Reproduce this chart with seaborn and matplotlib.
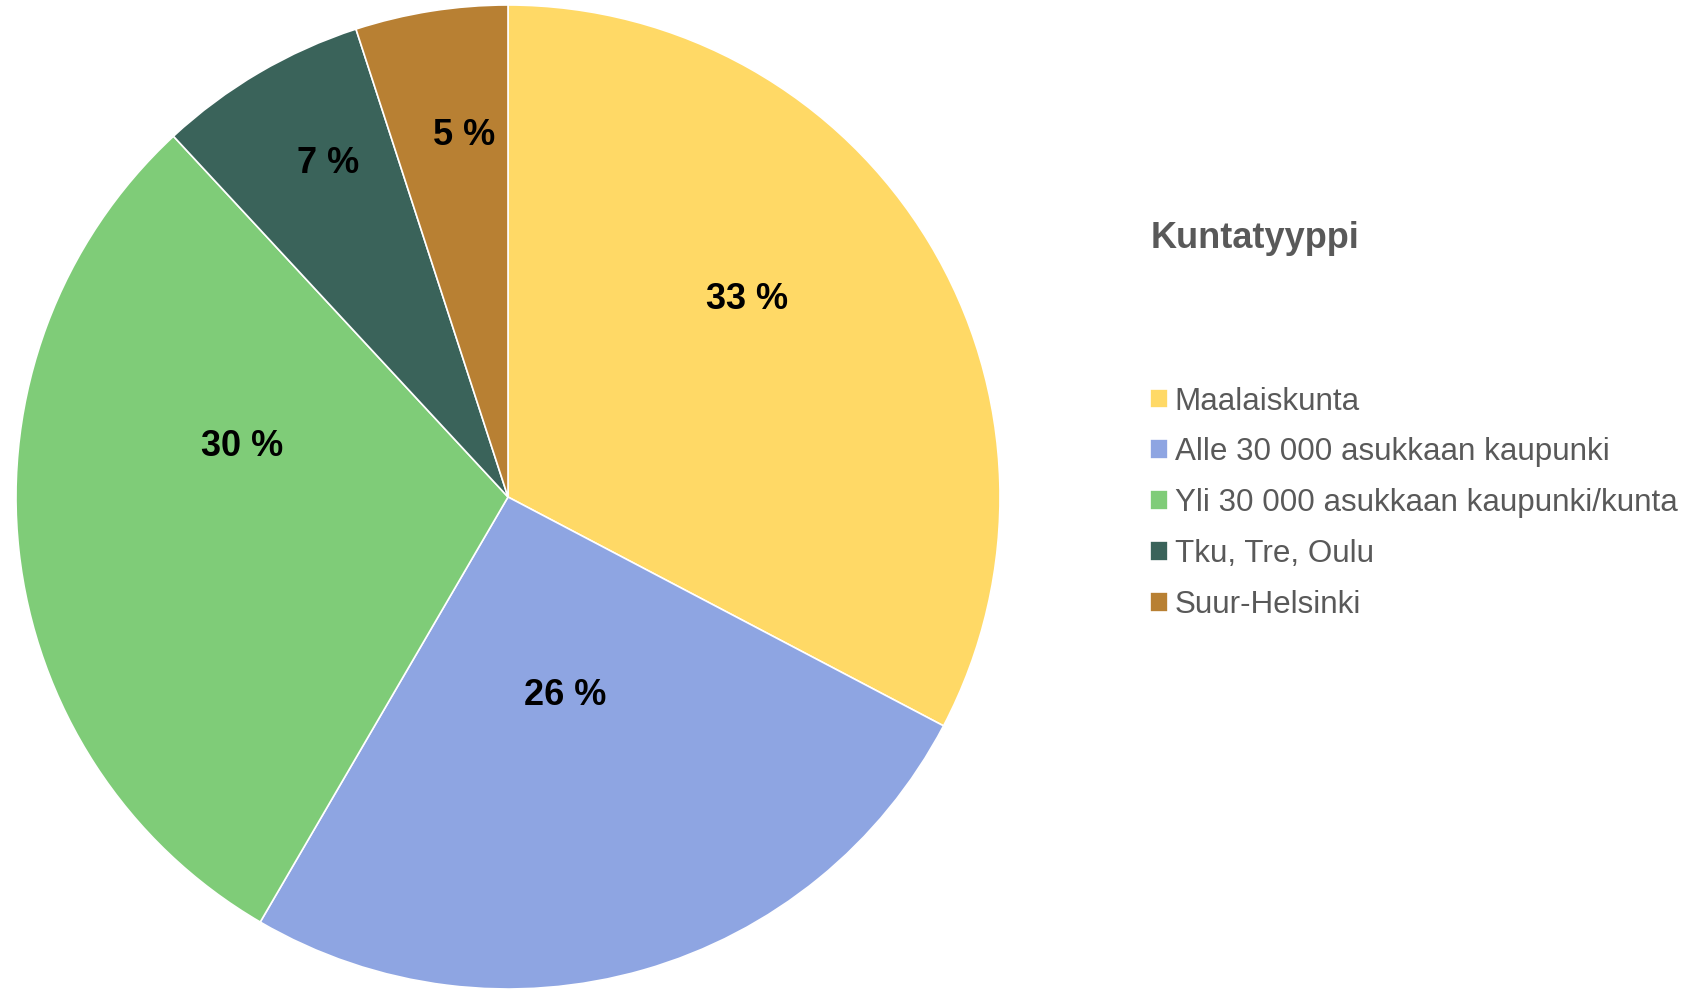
import numpy as np
import matplotlib.pyplot as plt
import seaborn as sns

categories = ["Maalaiskunta", "Alle 30 000 asukkaan kaupunki",
              "Yli 30 000 asukkaan kaupunki/kunta", "Tku, Tre, Oulu", "Suur-Helsinki"]
shares = [32.7, 25.7, 29.7, 6.9, 5.0]
colors = ["#FFD966", "#8EA5E2", "#7FCC78", "#3A635A", "#B88033"]
# label placement (fraction of radius, angular nudge in degrees)
label_radius = [0.63, 0.42, 0.55, 0.77, 0.74]
label_shift = [8.5, 0, -17, -2, -2]

sns.set_theme(style="white")
plt.rcParams["font.family"] = ["Liberation Sans", "DejaVu Sans"]

fig = plt.figure(figsize=(16.93, 9.9), dpi=100)
W, H = 1693, 990
cx, cy, r = 508, 497, 492
ax = fig.add_axes([(cx - r) / W, (H - cy - r) / H, 2 * r / W, 2 * r / H])

wedges, texts, autotexts = ax.pie(
    shares, colors=sns.color_palette(colors), startangle=90, counterclock=False,
    autopct=lambda p: f"{p:.0f} %", pctdistance=0.6,
    wedgeprops=dict(edgecolor="white", linewidth=1.2),
    textprops=dict(fontsize=26, fontweight="bold", color="black"))

for w, t, k, d in zip(wedges, autotexts, label_radius, label_shift):
    ang = np.deg2rad((w.theta1 + w.theta2) / 2 + d)
    t.set_position((k * np.cos(ang), k * np.sin(ang)))

ax.set_xlim(-1, 1)
ax.set_ylim(-1, 1)
ax.set_aspect("equal")
ax.axis("off")

fig.text(1151 / W, 1 - 239 / H, "Kuntatyyppi", fontsize=26, fontweight="bold",
         color="#595959", va="center", ha="left")

leg = fig.legend(wedges, categories, loc="upper left",
                 bbox_to_anchor=(1137 / W, 1 - 374 / H), frameon=False,
                 fontsize=22.6, handlelength=0.6, handleheight=0.6,
                 handletextpad=0.2, labelspacing=0.665, borderaxespad=0)
for t in leg.get_texts():
    t.set_color("#595959")

fig.savefig("out.png", dpi=100)
